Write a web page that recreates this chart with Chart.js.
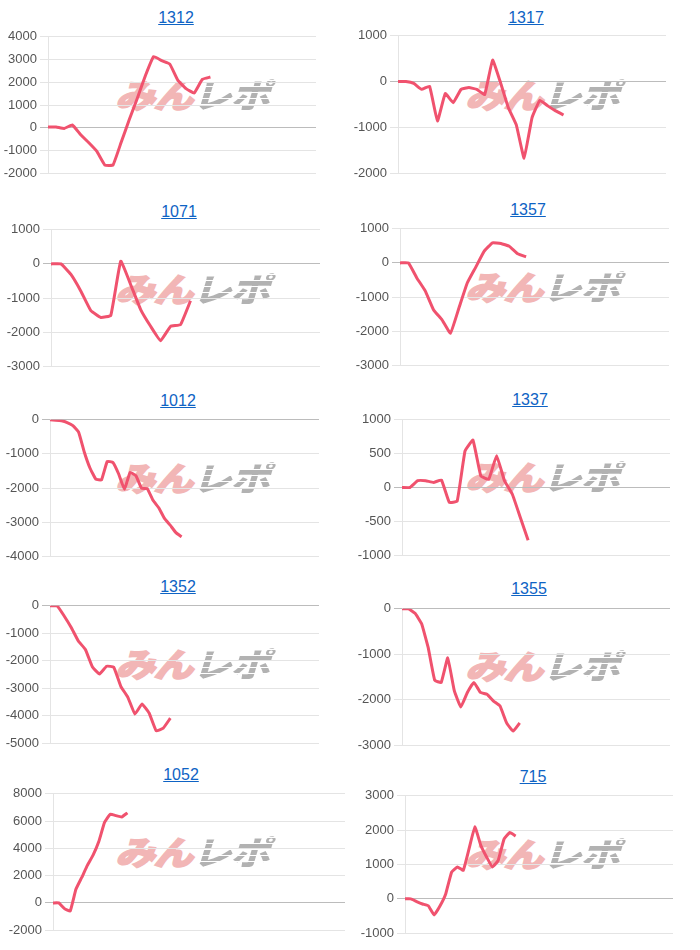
<!DOCTYPE html>
<html>
<head>
<meta charset="utf-8">
<script src="https://cdn.jsdelivr.net/npm/chart.js"></script>
<style>
  body { margin: 0; background: #fff; width: 700px; height: 950px; position: relative; overflow: hidden;
         font-family: "Liberation Sans", Arial, sans-serif; }
  .title { position: absolute; transform: translate(-50%, -50%); color: #0e63c4; text-decoration: underline;
           font-size: 16px; white-space: nowrap; }
  .wm { position: absolute; z-index: 0; white-space: nowrap; pointer-events: none;
        font-family: "Noto Sans CJK JP", sans-serif; font-weight: 900; font-size: 33px; line-height: 1;
        transform: translate(-50%, -50%) scaleX(1.2) skewX(-14deg); letter-spacing: -1px; }
  .wm .a { color: #f2b6b6; -webkit-text-stroke: 1.5px #f2b6b6; }
  .wm .b { color: transparent; background: repeating-linear-gradient(to bottom, #b2b2b2 0 5px, rgba(255,255,255,0) 5px 6px);
           -webkit-background-clip: text; background-clip: text; }
  canvas { position: absolute; z-index: 1; }
</style>
</head>
<body>
<script>
const codes = ["1312", "1317", "1071", "1357", "1012", "1337", "1352", "1355", "1052", "715"];

const s1312 = [30, 30, -30, 120, -300, -650, -1030, -1640, -1640, -650, 350, 1300, 2300, 3130, 2950, 2800, 2080, 1720, 1530, 2130, 2230];
const s1317 = [0, 0, -40, -170, -100, -860, -260, -460, -170, -130, -170, -280, 470, -20, -570, -940, -1670, -790, -410, -530, -640, -730];
const s1071 = [0, 0, -310, -800, -1370, -1570, -1510, 80, -610, -1340, -1830, -2250, -1830, -1780, -1080];
const s1357 = [0, 0, -440, -820, -1380, -1670, -2060, -1330, -590, -130, 340, 590, 570, 490, 270, 180];
const s1012 = [0, -10, -30, -80, -170, -360, -950, -1420, -1740, -1760, -1220, -1250, -1590, -2040, -1540, -1640, -2010, -2020, -2360, -2580, -2890, -3090, -3310, -3430];
const s1337 = [0, 0, 100, 100, 75, 110, -220, -200, 540, 700, 170, 120, 470, 100, -100, -440, -780];
const s1352 = [0, 0, -370, -790, -1280, -1590, -2230, -2480, -2200, -2230, -2930, -3330, -3940, -3570, -3900, -4550, -4450, -4090];
const s1355 = [0, 0, -100, -330, -850, -1570, -1620, -1080, -1800, -2160, -1840, -1620, -1840, -1880, -2030, -2140, -2510, -2690, -2510];
const s1052 = [0, 0, -420, -600, 1000, 1850, 2750, 3500, 4500, 5900, 6500, 6400, 6300, 6600];
const s715 = [0, 0, -80, -150, -200, -470, -210, 150, 780, 930, 830, 1460, 2100, 1560, 1220, 930, 1120, 1740, 1930, 1830];

const seriesList = [s1312, s1317, s1071, s1357, s1012, s1337, s1352, s1355, s1052, s715];
// number of x slots (time steps) on each chart's axis
const slotCounts = [34, 35, 28, 33, 48, 35, 39, 42, 52, 47];
const yMins = [-2000, -2000, -3000, -3000, -4000, -1000, -5000, -3000, -2000, -1000];
const yMaxs = [4000, 1000, 1000, 1000, 0, 1000, 0, 0, 8000, 3000];
const ySteps = [1000, 1000, 1000, 1000, 1000, 500, 1000, 1000, 2000, 1000];

// layout per chart: cell left, title x, title y, plot left, plot top, plot right, plot bottom
const boxes = [
  [0, 176, 18, 48, 36, 316, 172],
  [350, 526, 18, 398, 35, 666, 172],
  [0, 179, 212, 51, 229, 320, 365],
  [350, 528, 210, 400, 228, 669, 364],
  [0, 178, 401, 50, 419, 319, 555],
  [350, 530, 400, 402, 419, 670, 554],
  [0, 178, 587, 50, 605, 319, 742],
  [350, 529, 589, 402, 608, 670, 744],
  [0, 181, 775, 53, 793, 345, 929],
  [350, 533, 777, 405, 795, 673, 932]
];

const LINE_COLOR = "rgb(240, 82, 110)";
const PAD_TOP = 10;
const PAD_BOTTOM = 12;

codes.forEach((code, i) => {
  const [cellX, tx, ty, pl, pt, pr, pb] = boxes[i];

  const title = document.createElement("a");
  title.className = "title";
  title.textContent = code;
  title.style.left = tx + "px";
  title.style.top = ty + "px";
  document.body.appendChild(title);

  const wm = document.createElement("div");
  wm.className = "wm";
  wm.innerHTML = '<span class="a">みん</span><span class="b">レポ</span>';
  wm.style.left = (cellX + 196) + "px";
  wm.style.top = (ty + 76) + "px";
  document.body.appendChild(wm);

  const canvas = document.createElement("canvas");
  const w = pr - cellX + 2;
  const h = pb - pt + PAD_TOP + PAD_BOTTOM;
  canvas.width = w;
  canvas.height = h;
  canvas.style.left = cellX + "px";
  canvas.style.top = (pt - PAD_TOP) + "px";
  canvas.style.width = w + "px";
  canvas.style.height = h + "px";
  document.body.appendChild(canvas);

  const axisW = pl - cellX;

  new Chart(canvas, {
    type: "line",
    data: {
      labels: Array(slotCounts[i]).fill(""),
      datasets: [{
        data: seriesList[i],
        borderColor: LINE_COLOR,
        borderWidth: 3,
        pointRadius: 0,
        tension: 0.1,
        fill: false
      }]
    },
    options: {
      responsive: false,
      animation: false,
      layout: { padding: { top: 0, bottom: 0, left: 0, right: 2 } },
      plugins: {
        legend: { display: false },
        tooltip: { enabled: false }
      },
      scales: {
        x: { display: false },
        y: {
          min: yMins[i],
          max: yMaxs[i],
          ticks: {
            stepSize: ySteps[i],
            color: "#555",
            padding: 3,
            font: { size: 13, family: "'Liberation Sans', Arial, sans-serif" },
            callback: v => String(v)
          },
          grid: {
            color: ctx => (ctx.tick && ctx.tick.value === 0) ? "#bcbcbc" : "#e4e4e4",
            tickLength: 8
          },
          border: { color: "#e4e4e4" },
          afterFit: scale => { scale.width = axisW; }
        }
      }
    }
  });
});
</script>
</body>
</html>
